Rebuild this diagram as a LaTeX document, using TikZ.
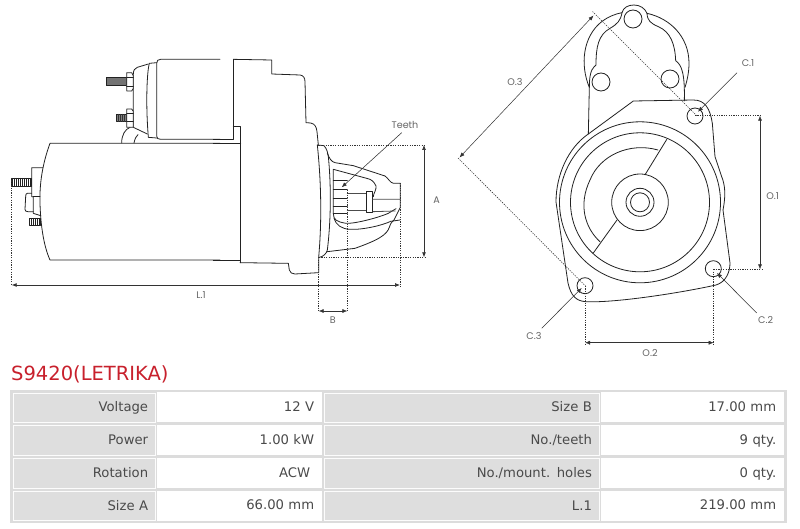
\documentclass[tikz,border=0pt]{standalone}
\usepackage{fontspec}
\setmainfont{DejaVu Sans}
\newfontfamily\dimfont{Poppins}
\usetikzlibrary{arrows.meta}
\definecolor{ink}{HTML}{222222}
\definecolor{dimc}{HTML}{333333}
\definecolor{txt}{HTML}{4A4A4A}
\definecolor{cellg}{HTML}{DEDEDE}
\definecolor{tabg}{HTML}{DCDCDC}
\definecolor{titler}{HTML}{C8202C}
\tikzset{
 part/.style={draw=ink,line width=.8pt,line join=round,line cap=round},
 dimline/.style={draw=dimc,line width=.7pt,{Latex[length=5pt,width=4pt]}-{Latex[length=5pt,width=4pt]}},
 leader/.style={draw=dimc,line width=.55pt,-{Latex[length=5pt,width=4pt]}},
 extline/.style={draw=dimc,line width=.9pt,dash pattern=on 1.2pt off 1.2pt},
 dimtext/.style={font=\dimfont\fontsize{9.6}{11}\selectfont,text=txt!85!white,inner sep=0pt},
 hole/.style={part,fill=white},
 lab/.style={anchor=north west,fill=cellg,draw=white!90!cellg,line width=.8pt,inner sep=0pt,minimum height=29.5pt,text=txt,
   font=\fontsize{13.2}{15}\selectfont,align=right,text height=10.8pt,text depth=2.2pt},
 val/.style={anchor=north west,fill=white,inner sep=0pt,minimum height=30pt,text=txt,
   font=\fontsize{13.2}{15}\selectfont,align=right,text height=10.8pt,text depth=2.2pt},
}
\begin{document}
\begin{tikzpicture}[x=1pt,y=-1pt]
\useasboundingbox (0,0) rectangle (800,529);
\fill[white] (0,0) rectangle (800,529);

% ---- side view, left part
\begin{scope}[shift={(0,40)},x=.33333pt,y=-.33333pt]
 % motor
 \draw[part] (660,310) -- (150,310) .. controls (128,370) and (118,430) .. (120,490) .. controls (122,560) and (132,620) .. (150,660) -- (660,660);
 % solenoid
 \draw[part] (660,58) -- (482,58) .. controls (474,58) and (470,62) .. (470,70) -- (470,288) .. controls (470,295) and (474,298) .. (482,298) -- (660,298);
 \draw[part] (470,68) -- (448,70) .. controls (442,90) and (436,180) .. (445,292) -- (470,294);
 \draw[part] (445,72) -- (412,82) .. controls (404,84) and (400,92) .. (400,102) -- (400,262) -- (442,282);
 % bracket
 \draw[part] (365,309) .. controls (365,285) and (375,268) .. (390,262);
 \draw[part] (402,309) .. controls (405,295) and (408,290) .. (414,284);
 % top terminal
 \draw[part,fill=black!55,line width=.5pt] (318,113) rectangle (380,137);
 \draw[part,fill=white] (380,98) -- (395,98) -- (400,108) -- (400,145) -- (395,153) -- (380,153) -- cycle;
 \draw[part] (380,112) -- (400,112) (380,140) -- (400,140);
 % lower terminal
 \draw[part,fill=black!50,line width=.5pt] (350,222) rectangle (380,245);
 \foreach \i in {356,362,...,378} \draw[black!80,line width=.4pt] (\i,222) -- (\i,245);
 \draw[part,fill=white] (380,207) -- (395,207) -- (400,214) -- (400,262) -- (380,262) -- cycle;
 \draw[part] (380,220) -- (400,220) (380,245) -- (400,245);
 % rear bits
 \draw[part] (128,383) -- (95,383) -- (95,470) -- (100,470) -- (100,520) -- (122,527);
 \draw[part] (100,470) -- (120,470);
 \draw[part] (95,460) -- (82,460) .. controls (78,460) and (77,464) .. (77,470) -- (75,508) .. controls (75,513) and (78,515) .. (84,515) -- (100,515);
 \draw[part,line width=.6pt] (33,414) rectangle (95,438);
 \foreach \i in {38,44,...,92} \draw[ink,line width=.9pt] (\i,414) -- (\i,438);
 \draw[part,line width=.6pt] (88,534) rectangle (122,557);
 \foreach \i in {93,99,...,120} \draw[ink,line width=.9pt] (\i,534) -- (\i,557);
\end{scope}

% ---- side view, right part
\begin{scope}[shift={(220,50)},x=.33333pt,y=-.33333pt]
 \draw[part] (40,28) -- (155,30) -- (155,72) -- (240,75) .. controls (250,76) and (255,84) .. (255,95) -- (258,218) -- (272,219) .. controls (285,222) and (289,230) .. (291,245) -- (295,285);
 \draw[part] (40,28) -- (40,268) -- (-20,268);
 \draw[part] (40,228) -- (62,228) -- (62,638);
 \draw[part] (-20,280) -- (62,280);
 \draw[part] (-20,632) -- (60,632);
 \draw[part] (60,638) -- (205,640) -- (208,660) .. controls (210,668) and (216,672) .. (225,672) -- (296,668) -- (296,622);
 % flange
 \draw[part] (292,285) .. controls (302,380) and (307,500) .. (296,622);
 \draw[part] (292,285) -- (312,287) .. controls (320,295) and (325,310) .. (326,330) .. controls (334,420) and (332,520) .. (322,600) .. controls (320,610) and (310,620) .. (298,622);
 % nose
 \draw[part] (322,310) .. controls (328,325) and (334,335) .. (345,338) -- (400,347) -- (495,378) .. controls (505,385) and (510,398) .. (520,400) -- (541,400) -- (541,472) -- (522,510) .. controls (515,515) and (512,520) .. (508,532) .. controls (500,555) and (475,570) .. (405,595) -- (322,605);
 % cavity
 \draw[part] (340,358) -- (440,385) .. controls (455,388) and (462,395) .. (468,408) .. controls (470,420) and (460,430) .. (460,440) ;
 \draw[part] (340,358) -- (340,490) .. controls (340,510) and (350,515) .. (378,520) .. controls (400,522) and (470,505) .. (505,490) -- (528,476);
 \draw[part] (342,505) .. controls (348,525) and (365,537) .. (390,538) .. controls (430,540) and (490,525) .. (512,514) -- (540,510);
 % teeth
 \draw[part] (340,390) -- (382,390) (340,418) -- (382,418) (340,445) -- (382,445) (340,468) -- (382,468) (340,490) -- (382,490);
 % shaft
 \draw[part,draw=black!70] (382,431) -- (440,431) (382,480) -- (440,480);
 \draw[part,fill=white] (440,425) rectangle (458,487);
 \draw[part,draw=black!70] (458,448) -- (541,448) (458,485) -- (526,483);
\end{scope}

% ---- end view
\begin{scope}[shift={(530,0)},x=.33333pt,y=-.33333pt]
 % rear outer arc and ear
 \draw[part] (178,262) .. controls (150,195) and (158,110) .. (215,65) .. controls (235,50) and (255,42) .. (276,38) .. controls (280,22) and (295,15) .. (312,15) .. controls (330,15) and (345,25) .. (351,40) .. controls (420,55) and (477,110) .. (477,190) .. controls (477,215) and (472,240) .. (465,262);
 % inner pad outline
 \draw[part] (276,38) .. controls (272,62) and (262,72) .. (240,85) .. controls (205,105) and (198,140) .. (198,195) .. controls (192,202) and (178,205) .. (178,262);
 \draw[part] (351,40) .. controls (352,62) and (362,70) .. (385,80) .. controls (420,95) and (435,130) .. (437,182) .. controls (455,195) and (465,220) .. (463,303);
 % flange upper
 \draw[part] (178,262) -- (175,402) -- (310,303) -- (490,300) .. controls (525,300) and (540,325) .. (547,370) -- (555,470) -- (575,530);
\end{scope}

\begin{scope}[x=1pt,y=-1pt]
 \coordinate (ctr) at (640,202.3);
 % lower flange outline
 \draw[part] (588.3,134) .. controls (568,148) and (556,175) .. (556,202) -- (568,283) .. controls (571,296) and (576,301) .. (586,301.7) .. controls (615,303) and (680,293) .. (716,285) .. controls (726,282) and (730,272) .. (730,263) -- (723,210) .. controls (726,195) and (725,185) .. (721.7,176.7);
 \draw[part] (ctr) circle[radius=80.5pt];
 \draw[part] (ctr) circle[radius=69.5pt];
 \draw[part] (658,150) .. controls (630,142) and (600,155) .. (590,180) .. controls (578,205) and (585,228) .. (600,241.7);
 \draw[part] (666.7,139.5) -- (645,174.8);
 \draw[part] (617,220) -- (593.3,253);
 \draw[part] (ctr) circle[radius=28.3pt];
 \draw[part] (ctr) circle[radius=14pt];
 \draw[part] (ctr) circle[radius=9.5pt];
 % holes
 \node[hole,circle,minimum size=18pt,inner sep=0pt] (h0) at (633,19) {};
 \node[hole,circle,minimum size=18pt,inner sep=0pt] (h1) at (601,82) {};
 \node[hole,circle,minimum size=18pt,inner sep=0pt] (h2) at (670,79) {};
 \node[hole,circle,minimum size=16pt,inner sep=0pt] (c1) at (695,116) {};
 \node[hole,circle,minimum size=16pt,inner sep=0pt] (c2) at (713.3,268.7) {};
 \node[hole,circle,minimum size=16pt,inner sep=0pt] (c3) at (585,285.7) {};
\end{scope}

% ---- dimension anchors
\coordinate (Lstart) at (11.7,178);
\coordinate (Lfoot) at (11.7,285);
\coordinate (Ltop) at (400.3,183);
\coordinate (Lbot) at (400.3,286.5);
\coordinate (Lend) at (400,285);
\coordinate (Atl) at (318.3,145);
\coordinate (Atr) at (424.5,145);
\coordinate (Abl) at (319,257.3);
\coordinate (Abr) at (426,257.3);
\coordinate (Atop) at (424,145);
\coordinate (Abot) at (424,257.3);
\coordinate (Bl) at (318.7,257.3);
\coordinate (Blb) at (318.7,312);
\coordinate (Br) at (347.3,190);
\coordinate (Brb) at (347.3,312);
\coordinate (Ba) at (318.7,311);
\coordinate (Bb) at (347.3,311);
\coordinate (Tfrom) at (401.7,132.7);
\coordinate (Tto) at (341.7,187.3);
\coordinate (O3a) at (592.5,11.5);
\coordinate (O3b) at (697,116);
\coordinate (O3c) at (458,158);
\coordinate (O3d) at (586,286.5);
\coordinate (O3e) at (593.5,15.5);
\coordinate (O3f) at (459.5,157.5);
\coordinate (O1a) at (695,115.7);
\coordinate (O1b) at (762,115.7);
\coordinate (O1c) at (713.5,269.3);
\coordinate (O1d) at (762,269.3);
\coordinate (O1e) at (760,115.7);
\coordinate (O1f) at (760,269.3);
\coordinate (O2a) at (585,286);
\coordinate (O2b) at (585,344.5);
\coordinate (O2c) at (713.7,269.3);
\coordinate (O2d) at (713.7,344.5);
\coordinate (O2e) at (585,342.7);
\coordinate (O2f) at (713.7,342.7);
\coordinate (C1f) at (737,72.7);
\coordinate (C1t) at (698,111.7);
\coordinate (C2f) at (756.7,313);
\coordinate (C2t) at (717,273);
\coordinate (C3f) at (541.7,328.3);
\coordinate (C3t) at (581.7,288);

\draw[extline] (Lstart) -- (Lfoot);
\draw[extline] (Ltop) -- (Lbot);
\draw[dimline] (Lfoot) -- (Lend);
\draw[extline] (Atl) -- (Atr);
\draw[extline] (Abl) -- (Abr);
\draw[dimline] (Atop) -- (Abot);
\draw[extline] (Bl) -- (Blb);
\draw[extline] (Br) -- (Brb);
\draw[dimline,line width=.5pt] (Ba) -- (Bb);
\draw[leader] (Tfrom) -- (Tto);
\draw[extline,line width=.6pt] (O3a) -- (O3b);
\draw[extline,line width=.6pt] (O3c) -- (O3d);
\draw[dimline,line width=.5pt] (O3f) -- (O3e);
\draw[extline] (O1a) -- (O1b);
\draw[extline] (O1c) -- (O1d);
\draw[dimline,line width=.5pt] (O1e) -- (O1f);
\draw[extline] (O2a) -- (O2b);
\draw[extline] (O2c) -- (O2d);
\draw[dimline,line width=.5pt] (O2e) -- (O2f);
\draw[leader] (C1f) -- (C1t);
\draw[leader] (C2f) -- (C2t);
\draw[leader] (C3f) -- (C3t);

% ---- dimension labels
\node[dimtext] (tTeeth) at (405,125) {Teeth};
\node[dimtext] (tA) at (436.7,200) {A};
\node[dimtext] (tB) at (332.7,320) {B};
\node[dimtext] (tL) at (201,295.5) {L.1};
\node[dimtext] (tO3) at (515,82) {O.3};
\node[dimtext] (tO1) at (772.7,196) {O.1};
\node[dimtext] (tO2) at (650,353) {O.2};
\node[dimtext] (tC1) at (748,63.5) {C.1};
\node[dimtext] (tC2) at (765.7,320) {C.2};
\node[dimtext] (tC3) at (534,336) {C.3};

% ---- title
\node[anchor=west,inner sep=0pt,text=titler,font=\fontsize{19.5}{22}\selectfont] (title) at (11,374) {S9420(LETRIKA)};

% ---- table
\fill[tabg] (10,390) rectangle (786.5,523);
\node[lab,minimum width=142pt,text width=128pt] (l1) at (12.7,392.5) {Voltage};
\node[val,minimum width=165pt,text width=149pt] (v1) at (157,392.2) {12 V};
\node[lab,minimum width=275pt,text width=261pt] (m1) at (323.5,392.5) {Size B};
\node[val,minimum width=183pt,text width=167pt] (r1) at (601,392.2) {17.00 mm};
\node[lab,minimum width=142pt,text width=128pt] (l2) at (12.7,425.3) {Power};
\node[val,minimum width=165pt,text width=149pt] (v2) at (157,425) {1.00 kW};
\node[lab,minimum width=275pt,text width=261pt] (m2) at (323.5,425.3) {No./teeth};
\node[val,minimum width=183pt,text width=167pt] (r2) at (601,425) {9 qty.};
\node[lab,minimum width=142pt,text width=128pt] (l3) at (12.7,458) {Rotation};
\node[val,minimum width=165pt,text width=149pt] (v3) at (157,457.7) {ACW\hspace*{4pt}};
\node[lab,minimum width=275pt,text width=261pt] (m3) at (323.5,458) {No./mount. holes};
\node[val,minimum width=183pt,text width=167pt] (r3) at (601,457.7) {0 qty.};
\node[lab,minimum width=142pt,text width=128pt] (l4) at (12.7,490.7) {Size A};
\node[val,minimum width=165pt,text width=149pt] (v4) at (157,490.4) {66.00 mm};
\node[lab,minimum width=275pt,text width=261pt] (m4) at (323.5,490.7) {L.1};
\node[val,minimum width=183pt,text width=167pt] (r4) at (601,490.4) {219.00 mm};
\end{tikzpicture}
\end{document}
